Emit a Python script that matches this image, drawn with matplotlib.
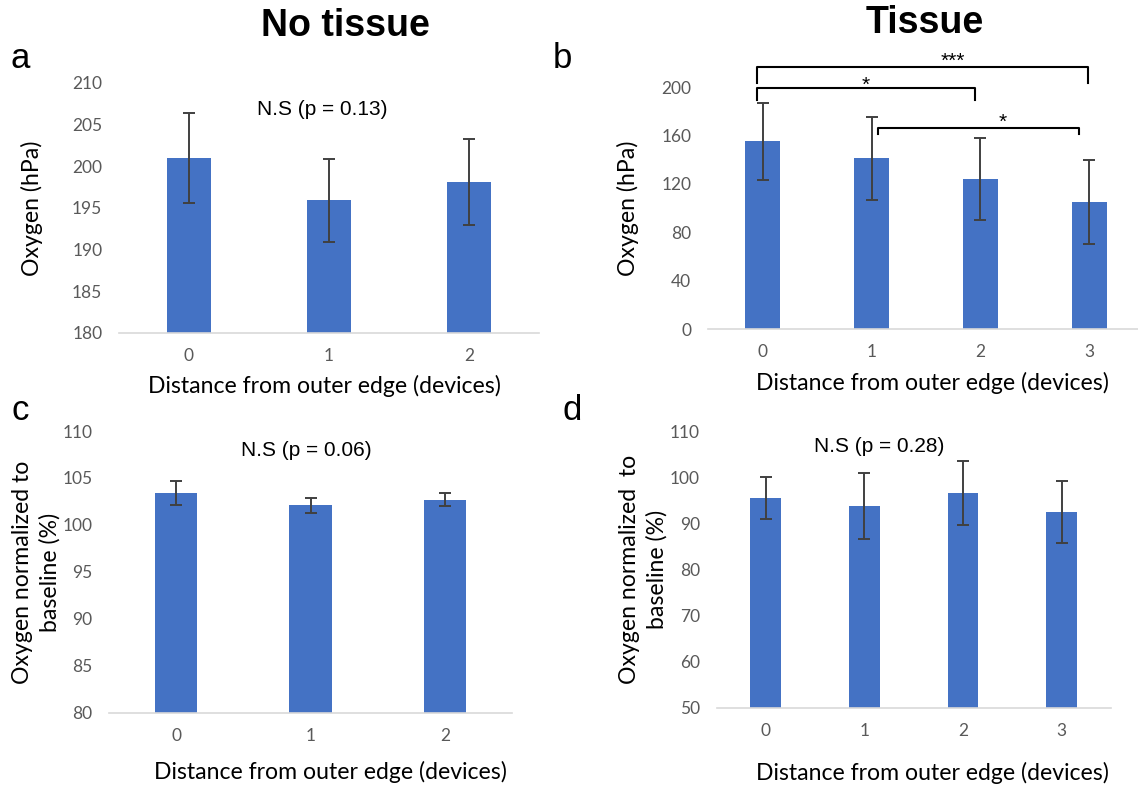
import matplotlib
matplotlib.use("Agg")
import matplotlib.pyplot as plt
import numpy as np

# ---------------- data ----------------
a_categories = ["0", "1", "2"]
a_means = [201.0, 195.9, 198.1]
a_errors = [5.4, 5.0, 5.2]
a_yticks = [180, 185, 190, 195, 200, 205, 210]

b_categories = ["0", "1", "2", "3"]
b_means = [155.0, 141.0, 124.0, 105.0]
b_errors = [32.0, 34.0, 34.0, 35.0]
b_yticks = [0, 40, 80, 120, 160, 200]

c_categories = ["0", "1", "2"]
c_means = [103.4, 102.1, 102.7]
c_errors = [1.3, 0.8, 0.7]
c_yticks = [80, 85, 90, 95, 100, 105, 110]

d_categories = ["0", "1", "2", "3"]
d_means = [95.5, 93.8, 96.6, 92.5]
d_errors = [4.5, 7.2, 7.0, 6.7]
d_yticks = [50, 60, 70, 80, 90, 100, 110]

# significance brackets in panel b: (from, to, label)
b_pairs = [(0, 3, "***"), (0, 2, "*"), (1, 3, "*")]

# ---------------- style ----------------
BAR = "#4472C4"
ERR = "#404040"
TICKC = "#595959"
AXC = "#D9D9D9"
TF = "Lato"
SANS = "Liberation Sans"

W, H = 1138, 791
fig = plt.figure(figsize=(W / 100, H / 100), dpi=100)


def px_axes(x0, x1, ytop, ybot):
    return fig.add_axes([x0 / W, 1 - ybot / H, (x1 - x0) / W, (ybot - ytop) / H])


def panel(ax, cats, means, errs, yticks, ylabel, ylab_x, xlab_x, xlab_y):
    x = np.arange(len(cats))
    ax.bar(x, means, width=0.313, color=BAR, zorder=2)
    ax.errorbar(x, means, yerr=errs, fmt="none", ecolor=ERR, elinewidth=1.4,
                capsize=4, capthick=1.4, zorder=3)
    ax.set_xlim(-0.5, len(cats) - 0.5)
    ax.set_ylim(yticks[0], yticks[-1])
    ax.set_yticks(yticks)
    ax.set_xticks(x)
    ax.set_xticklabels(cats)
    for s in ["top", "right", "left"]:
        ax.spines[s].set_visible(False)
    ax.spines["bottom"].set_color(AXC)
    ax.spines["bottom"].set_linewidth(1.2)
    ax.tick_params(axis="both", length=0, colors=TICKC, labelsize=12.5)
    ax.tick_params(axis="x", pad=11)
    ax.tick_params(axis="y", pad=12)
    for lab in ax.get_xticklabels() + ax.get_yticklabels():
        lab.set_fontfamily(TF)
    ax.set_xlabel("Distance from outer edge (devices)", fontsize=16.6,
                  fontfamily=TF, color="black", va="center")
    ax.xaxis.set_label_coords(xlab_x, xlab_y)
    ax.set_ylabel(ylabel, fontsize=16.6, fontfamily=TF, color="black",
                  va="center", linespacing=1.35)
    ax.yaxis.set_label_coords(ylab_x, 0.5)
    ax.set_facecolor("none")


# panel a
ax_a = px_axes(119, 539, 83, 333)
panel(ax_a, a_categories, a_means, a_errors, a_yticks, "Oxygen (hPa)",
      -0.207, 0.488, -0.21)
ax_a.text(0.95, 206.8, "N.S (p = 0.13)", ha="center", va="center",
          fontsize=15, fontfamily=SANS)

# panel b
ax_b = px_axes(708, 1144, 87, 329)
panel(ax_b, b_categories, b_means, b_errors, b_yticks, "Oxygen (hPa)",
      -0.183, 0.515, -0.223)
bracket_geom = {
    (0, 3): (-0.05, 2.99, 216.5, 203.0, 1.75, 216.5),
    (0, 2): (-0.05, 1.945, 199.5, 189.0, 0.95, 196.5),
    (1, 3): (1.06, 2.9, 166.5, 161.0, 2.2, 166.5),
}
for i, j, lab in b_pairs:
    x1, x2, yb, ye, tx, ty = bracket_geom[(i, j)]
    ax_b.plot([x1, x1, x2, x2], [ye, yb, yb, ye], color="black", lw=1.5,
              clip_on=False, solid_joinstyle="round", zorder=4)
    ax_b.text(tx, ty, lab, ha="center", va="baseline", fontsize=15,
              fontfamily=SANS, clip_on=False)

# panel c
ax_c = px_axes(109, 512, 431, 713)
panel(ax_c, c_categories, c_means, c_errors, c_yticks,
      "Oxygen normalized to\nbaseline (%)", -0.181, 0.55, -0.209)
ax_c.text(0.97, 107.95, "N.S (p = 0.06)", ha="center", va="center",
          fontsize=15, fontfamily=SANS)

# panel d
ax_d = px_axes(716.5, 1111, 431, 708)
panel(ax_d, d_categories, d_means, d_errors, d_yticks,
      "Oxygen normalized  to\nbaseline (%)", -0.186, 0.5475, -0.235)
ax_d.text(1.15, 106.6, "N.S (p = 0.28)", ha="center", va="center",
          fontsize=15, fontfamily=SANS)

# titles and panel letters
fig.text(345 / W, 1 - 26 / H, "No tissue", ha="center", va="center",
         fontsize=27, fontweight="bold", fontfamily=SANS)
fig.text(925 / W, 1 - 23 / H, "Tissue", ha="center", va="center",
         fontsize=27, fontweight="bold", fontfamily=SANS)
for lx, ly, lt in [(20, 58, "a"), (562, 58, "b"), (20, 410, "c"), (572, 410, "d")]:
    fig.text(lx / W, 1 - ly / H, lt, ha="center", va="center",
             fontsize=25, fontfamily=SANS)

fig.savefig("out.png", dpi=100)
